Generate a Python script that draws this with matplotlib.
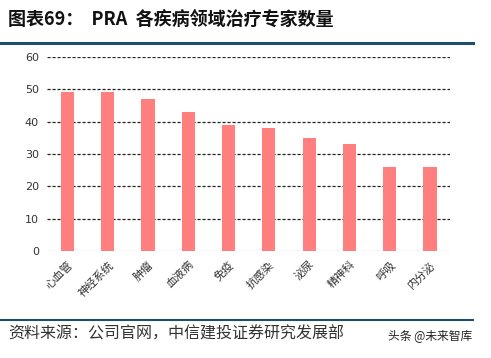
import matplotlib.pyplot as plt
from matplotlib.lines import Line2D

plt.rcParams['font.family'] = ['Noto Sans CJK SC', 'DejaVu Sans']

# data
categories = ['心血管', '神经系统', '肿瘤', '血液病', '免疫', '抗感染', '泌尿', '精神科', '呼吸', '内分泌']
experts = [49, 49, 47, 43, 39, 38, 35, 33, 26, 26]
y_ticks = [0, 10, 20, 30, 40, 50, 60]

fig = plt.figure(figsize=(4.91, 3.58), dpi=100)
ax = fig.add_axes([0.096, 0.299, 0.821, 0.542])

x = list(range(len(categories)))
ax.bar(x, experts, width=0.33, color='#ff7f7f', zorder=3)

ax.set_xlim(-0.5, len(categories) - 0.5)
ax.set_ylim(0, 60)
ax.set_yticks(y_ticks)
ax.set_yticklabels([str(v) for v in y_ticks], fontsize=8, color='#333333',
                   family=['DejaVu Sans'])
for v in y_ticks[1:]:
    ax.axhline(v, color='#222222', linestyle=(0, (2.5, 1.5)), linewidth=0.9, zorder=1)
ax.axhline(0, color='#d9d9d9', linewidth=1.0, zorder=2)

ax.set_xticks(x)
ax.set_xticklabels(categories, rotation=45, ha='right', rotation_mode='anchor',
                   fontsize=8, color='#333333')
ax.tick_params(axis='both', length=0, pad=6)
for s in ax.spines.values():
    s.set_visible(False)

# header / footer
fig.text(0.016, 0.944, '图表69：  PRA  各疾病领域治疗专家数量', fontsize=13,
         fontweight='heavy', color='#111111', va='center')
fig.add_artist(Line2D([0, 0.963], [0.88, 0.88], color='#1f4e6b', linewidth=2.2))
fig.add_artist(Line2D([0, 0.963], [0.106, 0.106], color='#1f4e6b', linewidth=1.5))
fig.text(0.016, 0.068, '资料来源：公司官网，中信建投证券研究发展部', fontsize=11.5,
         style='italic', color='#333333', va='center')
fig.text(0.79, 0.06, '头条 @未来智库', fontsize=8.5, color='#222222', va='center')

fig.savefig('out.png', dpi=100)
